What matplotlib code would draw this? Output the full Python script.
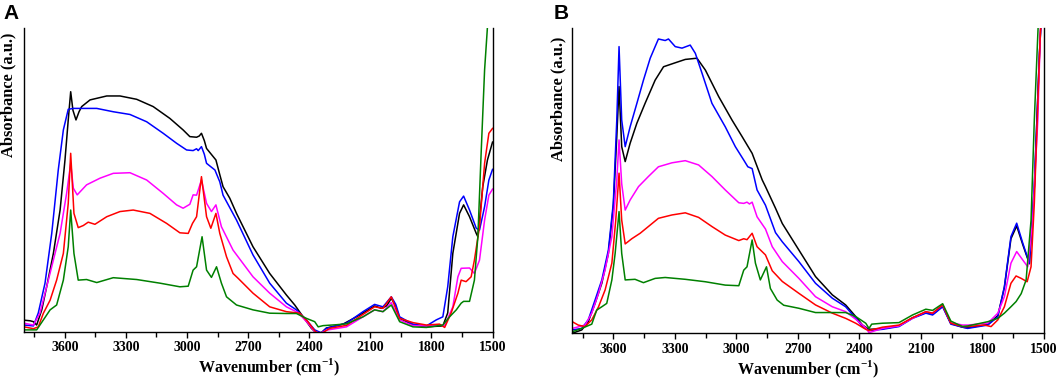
import matplotlib
matplotlib.use("Agg")
import matplotlib.pyplot as plt
from matplotlib.ticker import MultipleLocator

# spectra: (wavenumber, absorbance a.u.)
A_black = [(3800, 0.038), (3770, 0.036), (3754, 0.033), (3738, 0.022), (3713, 0.072), (3689, 0.148),
           (3656, 0.258), (3623, 0.401), (3599, 0.566), (3583, 0.698), (3571, 0.791), (3560, 0.73),
           (3545, 0.698), (3530, 0.725), (3517, 0.742), (3476, 0.764), (3394, 0.777), (3329, 0.777),
           (3247, 0.766), (3166, 0.742), (3084, 0.703), (3019, 0.665), (2986, 0.643), (2953, 0.641),
           (2940, 0.645), (2929, 0.654), (2915, 0.63), (2904, 0.604), (2875, 0.58), (2858, 0.566),
           (2840, 0.52), (2823, 0.478), (2790, 0.44), (2757, 0.39), (2676, 0.280), (2594, 0.192),
           (2512, 0.121), (2471, 0.088), (2430, 0.049), (2389, 0.011), (2364, -0.005), (2340, -0.003),
           (2316, 0.012), (2234, 0.025), (2152, 0.055), (2079, 0.085), (2046, 0.077), (2020, 0.085),
           (1997, 0.110), (1980, 0.09), (1956, 0.044), (1891, 0.022), (1825, 0.016), (1744, 0.019),
           (1720, 0.062), (1695, 0.258), (1662, 0.390), (1642, 0.418), (1613, 0.379), (1580, 0.324),
           (1572, 0.313), (1548, 0.478), (1525, 0.566), (1500, 0.625)]
A_blue = [(3800, 0.022), (3754, 0.019), (3730, 0.062), (3697, 0.160), (3664, 0.324), (3632, 0.533),
          (3607, 0.665), (3583, 0.733), (3558, 0.736), (3443, 0.736), (3362, 0.725), (3280, 0.716),
          (3198, 0.692), (3117, 0.654), (3051, 0.621), (3002, 0.599), (2970, 0.597), (2953, 0.603),
          (2945, 0.597), (2929, 0.610), (2915, 0.585), (2904, 0.555), (2863, 0.533), (2839, 0.494),
          (2823, 0.45), (2757, 0.368), (2676, 0.253), (2594, 0.160), (2512, 0.094), (2463, 0.072),
          (2414, 0.039), (2373, 0.006), (2340, -0.004), (2316, 0.011), (2217, 0.028), (2136, 0.066),
          (2079, 0.090), (2038, 0.082), (1997, 0.115), (1975, 0.09), (1956, 0.049), (1891, 0.025),
          (1825, 0.019), (1776, 0.039), (1744, 0.049), (1720, 0.148), (1695, 0.313), (1662, 0.428),
          (1642, 0.447), (1613, 0.401), (1580, 0.341), (1564, 0.335), (1539, 0.412), (1518, 0.50),
          (1500, 0.535)]
A_magenta = [(3800, 0.028), (3754, 0.022), (3722, 0.061), (3689, 0.148), (3656, 0.236), (3623, 0.324),
             (3591, 0.456), (3571, 0.555), (3558, 0.473), (3539, 0.451), (3493, 0.484), (3427, 0.506),
             (3362, 0.522), (3280, 0.524), (3198, 0.500), (3117, 0.456), (3051, 0.418), (3019, 0.407),
             (2986, 0.42), (2970, 0.451), (2953, 0.45), (2929, 0.500), (2904, 0.423), (2880, 0.396),
             (2858, 0.418), (2831, 0.346), (2774, 0.269), (2676, 0.181), (2594, 0.127), (2512, 0.082),
             (2455, 0.063), (2406, 0.028), (2373, 0.0), (2345, -0.005), (2316, 0.005), (2217, 0.016),
             (2136, 0.049), (2079, 0.072), (2038, 0.066), (1997, 0.096), (1956, 0.039), (1891, 0.02),
             (1825, 0.019), (1760, 0.022), (1735, 0.02), (1695, 0.082), (1670, 0.181), (1654, 0.209),
             (1613, 0.21), (1589, 0.192), (1564, 0.236), (1539, 0.368), (1518, 0.45), (1500, 0.47)]
A_red = [(3800, 0.016), (3754, 0.01), (3730, 0.016), (3705, 0.061), (3672, 0.104), (3640, 0.170),
         (3607, 0.258), (3583, 0.423), (3571, 0.588), (3555, 0.390), (3534, 0.343), (3509, 0.35),
         (3485, 0.361), (3452, 0.354), (3394, 0.379), (3329, 0.396), (3264, 0.401), (3182, 0.390),
         (3100, 0.357), (3035, 0.326), (2994, 0.324), (2973, 0.357), (2953, 0.379), (2929, 0.511),
         (2904, 0.379), (2883, 0.341), (2858, 0.390), (2839, 0.324), (2806, 0.247), (2774, 0.192),
         (2749, 0.176), (2676, 0.127), (2594, 0.082), (2512, 0.066), (2447, 0.061), (2406, 0.033),
         (2373, 0.003), (2348, -0.01), (2300, 0.011), (2217, 0.021), (2136, 0.057), (2079, 0.082),
         (2038, 0.077), (1997, 0.115), (1956, 0.044), (1891, 0.03), (1825, 0.022), (1760, 0.025),
         (1735, 0.014), (1703, 0.062), (1670, 0.127), (1654, 0.170), (1630, 0.165), (1605, 0.181),
         (1589, 0.236), (1564, 0.346), (1539, 0.555), (1518, 0.654), (1500, 0.67)]
A_green = [(3800, 0.006), (3738, 0.006), (3705, 0.039), (3672, 0.072), (3640, 0.088), (3607, 0.170),
           (3583, 0.280), (3571, 0.401), (3555, 0.258), (3534, 0.170), (3493, 0.172), (3443, 0.162),
           (3362, 0.178), (3247, 0.172), (3133, 0.160), (3035, 0.148), (2994, 0.150), (2970, 0.203),
           (2953, 0.214), (2926, 0.313), (2904, 0.203), (2880, 0.179), (2855, 0.214), (2831, 0.16),
           (2806, 0.115), (2757, 0.088), (2676, 0.072), (2594, 0.061), (2512, 0.06), (2463, 0.06),
           (2414, 0.044), (2373, 0.033), (2356, 0.016), (2332, 0.02), (2266, 0.023), (2217, 0.026),
           (2136, 0.049), (2079, 0.072), (2038, 0.066), (1997, 0.088), (1956, 0.033), (1891, 0.016),
           (1825, 0.014), (1744, 0.022), (1711, 0.049), (1678, 0.072), (1654, 0.094), (1642, 0.1),
           (1613, 0.1), (1589, 0.170), (1572, 0.313), (1556, 0.588), (1539, 0.863), (1526, 0.994),
           (1515, 1.12)]

B_black = [(3800, 0.0), (3754, 0.011), (3722, 0.038), (3689, 0.098), (3656, 0.164), (3624, 0.262),
           (3600, 0.415), (3583, 0.645), (3572, 0.809), (3559, 0.612), (3542, 0.563), (3518, 0.623),
           (3485, 0.689), (3445, 0.754), (3396, 0.830), (3355, 0.874), (3298, 0.887), (3249, 0.898),
           (3192, 0.902), (3151, 0.863), (3086, 0.776), (3021, 0.699), (2972, 0.645), (2923, 0.590),
           (2874, 0.503), (2858, 0.481), (2809, 0.41), (2776, 0.36), (2695, 0.273), (2614, 0.186),
           (2532, 0.126), (2467, 0.093), (2418, 0.055), (2385, 0.027), (2353, 0.013), (2288, 0.015),
           (2207, 0.024), (2141, 0.051), (2076, 0.068), (2043, 0.062), (1994, 0.089), (1954, 0.032),
           (1897, 0.02), (1872, 0.018), (1774, 0.029), (1725, 0.058), (1693, 0.15), (1661, 0.31),
           (1633, 0.352), (1603, 0.29), (1571, 0.228), (1547, 0.48), (1522, 0.915), (1512, 1.05)]
B_blue = [(3800, 0.011), (3754, 0.016), (3722, 0.044), (3689, 0.109), (3656, 0.175), (3624, 0.273),
          (3600, 0.426), (3583, 0.699), (3572, 0.940), (3559, 0.699), (3542, 0.612), (3518, 0.677),
          (3485, 0.754), (3453, 0.830), (3420, 0.902), (3396, 0.940), (3380, 0.965), (3347, 0.96),
          (3331, 0.965), (3298, 0.940), (3265, 0.935), (3225, 0.945), (3200, 0.918), (3167, 0.852),
          (3119, 0.754), (3054, 0.677), (3005, 0.612), (2964, 0.568), (2944, 0.546), (2923, 0.54),
          (2899, 0.470), (2858, 0.42), (2809, 0.33), (2776, 0.30), (2695, 0.235), (2614, 0.164),
          (2532, 0.115), (2467, 0.087), (2418, 0.049), (2385, 0.022), (2353, 0.009), (2288, 0.013),
          (2207, 0.022), (2141, 0.049), (2076, 0.066), (2043, 0.06), (1994, 0.087), (1954, 0.03),
          (1897, 0.02), (1872, 0.016), (1774, 0.027), (1725, 0.054), (1693, 0.153), (1661, 0.317),
          (1633, 0.361), (1603, 0.295), (1571, 0.230), (1547, 0.481), (1522, 0.918), (1512, 1.05)]
B_magenta = [(3800, 0.016), (3738, 0.027), (3705, 0.066), (3672, 0.131), (3640, 0.208), (3607, 0.317),
             (3583, 0.503), (3572, 0.634), (3559, 0.49), (3542, 0.404), (3518, 0.437), (3477, 0.481),
             (3429, 0.514), (3380, 0.546), (3314, 0.559), (3249, 0.566), (3184, 0.552), (3119, 0.514),
             (3054, 0.470), (2988, 0.428), (2964, 0.426), (2948, 0.43), (2936, 0.424), (2923, 0.43),
             (2899, 0.382), (2858, 0.342), (2825, 0.284), (2776, 0.235), (2695, 0.180), (2614, 0.120),
             (2532, 0.087), (2467, 0.071), (2418, 0.046), (2369, 0.018), (2353, 0.002), (2288, 0.016),
             (2207, 0.024), (2141, 0.049), (2076, 0.071), (2043, 0.066), (1994, 0.093), (1954, 0.035),
             (1897, 0.027), (1872, 0.027), (1774, 0.033), (1725, 0.066), (1693, 0.120), (1661, 0.230),
             (1633, 0.268), (1603, 0.24), (1579, 0.218), (1555, 0.371), (1530, 0.699), (1518, 0.98),
             (1512, 1.05)]
B_red = [(3800, 0.038), (3771, 0.027), (3738, 0.022), (3705, 0.044), (3672, 0.087), (3640, 0.142),
         (3607, 0.230), (3588, 0.371), (3572, 0.525), (3559, 0.371), (3542, 0.293), (3510, 0.31),
         (3469, 0.328), (3429, 0.350), (3380, 0.377), (3314, 0.388), (3249, 0.395), (3184, 0.38),
         (3119, 0.35), (3054, 0.322), (2988, 0.304), (2964, 0.31), (2948, 0.307), (2923, 0.328),
         (2899, 0.284), (2858, 0.257), (2825, 0.205), (2776, 0.17), (2695, 0.131), (2614, 0.093),
         (2532, 0.066), (2467, 0.049), (2418, 0.033), (2369, 0.013), (2353, 0.009), (2288, 0.02),
         (2207, 0.027), (2141, 0.051), (2076, 0.071), (2043, 0.066), (1994, 0.093), (1954, 0.033),
         (1897, 0.022), (1872, 0.022), (1790, 0.027), (1758, 0.022), (1725, 0.044), (1693, 0.087),
         (1661, 0.164), (1636, 0.188), (1611, 0.18), (1582, 0.169), (1563, 0.218), (1547, 0.426),
         (1530, 0.754), (1518, 0.98), (1512, 1.05)]
B_green = [(3800, 0.005), (3754, 0.016), (3705, 0.03), (3681, 0.076), (3656, 0.087), (3632, 0.098),
           (3607, 0.175), (3591, 0.262), (3572, 0.399), (3559, 0.262), (3542, 0.175), (3494, 0.177),
           (3453, 0.166), (3396, 0.180), (3347, 0.183), (3249, 0.177), (3151, 0.169), (3054, 0.158),
           (2988, 0.156), (2964, 0.207), (2948, 0.218), (2923, 0.306), (2907, 0.23), (2883, 0.175),
           (2853, 0.218), (2834, 0.147), (2801, 0.109), (2769, 0.092), (2695, 0.082), (2614, 0.068),
           (2532, 0.068), (2467, 0.068), (2418, 0.055), (2369, 0.033), (2353, 0.016), (2340, 0.03),
           (2288, 0.033), (2207, 0.035), (2141, 0.06), (2076, 0.079), (2043, 0.075), (1994, 0.097),
           (1954, 0.04), (1897, 0.022), (1872, 0.024), (1774, 0.038), (1725, 0.049), (1693, 0.066),
           (1661, 0.087), (1636, 0.104), (1611, 0.13), (1587, 0.175), (1563, 0.371), (1547, 0.70),
           (1530, 0.98), (1522, 1.1)]

colors = {"black": "#000000", "blue": "#0000FF", "magenta": "#FF00FF", "red": "#FF0000", "green": "#008000"}
panel_A = [("black", A_black), ("blue", A_blue), ("magenta", A_magenta), ("red", A_red), ("green", A_green)]
panel_B = [("black", B_black), ("blue", B_blue), ("magenta", B_magenta), ("red", B_red), ("green", B_green)]
xticks = [3600, 3300, 3000, 2700, 2400, 2100, 1800, 1500]

serif = "Liberation Serif"
plt.rcParams["mathtext.fontset"] = "custom"
plt.rcParams["mathtext.bf"] = "Liberation Serif:bold"
plt.rcParams["mathtext.rm"] = "Liberation Serif:bold"

fig = plt.figure(figsize=(10.59, 3.79), dpi=100)
axA = fig.add_axes([0.0227, 0.1248, 0.4424, 0.8005])
axB = fig.add_axes([0.5404, 0.1206, 0.4454, 0.8047])


def draw(ax, series, ylab_x, ylab_y, xlab_x):
    for name, pts in series:
        wn = [p[0] for p in pts]
        ab = [p[1] for p in pts]
        ax.plot(wn, ab, color=colors[name], lw=1.1)
    ax.set_xlim(3800, 1500)
    ax.set_ylim(0, 1)
    ax.set_yticks([])
    ax.set_xticks(xticks)
    ax.xaxis.set_minor_locator(MultipleLocator(150))
    ax.tick_params(axis="x", which="major", direction="out", length=4, width=1, pad=3)
    ax.tick_params(axis="x", which="minor", direction="out", length=3.5, width=1)
    for lab in ax.get_xticklabels():
        lab.set_fontfamily(serif)
        lab.set_fontweight("bold")
        lab.set_fontsize(10)
    ax.spines["top"].set_visible(False)
    for s in ["left", "right", "bottom"]:
        ax.spines[s].set_linewidth(1.0)
    ax.set_xlabel("Wavenumber (cm$^{\\mathregular{-1}}$)", fontfamily=serif, fontweight="bold",
                  fontsize=11.5)
    ax.xaxis.set_label_coords(xlab_x, -0.082)
    ax.xaxis.label.set_va("top")
    ax.set_ylabel("Absorbance (a.u.)", fontfamily=serif, fontweight="bold", fontsize=11.8)
    ax.yaxis.set_label_coords(ylab_x, ylab_y)


draw(axA, panel_A, -0.016, 0.78, 0.523)
draw(axB, panel_B, -0.013, 0.77, 0.5)

fig.text(0.003, 0.99, "A", fontfamily="Liberation Sans", fontweight="bold", fontsize=15, va="top")
fig.text(0.523, 0.99, "B", fontfamily="Liberation Sans", fontweight="bold", fontsize=15, va="top")

fig.savefig("out.png", dpi=100)
